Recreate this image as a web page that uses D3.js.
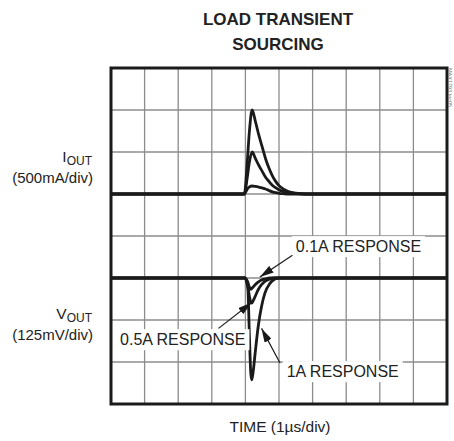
<!DOCTYPE html>
<html>
<head>
<meta charset="utf-8">
<script src="https://cdn.jsdelivr.net/npm/d3@7"></script>
<style>
  body { margin: 0; background: #fff; }
  text { font-family: Arial, "Liberation Sans", Helvetica, sans-serif; fill: #222; }
</style>
</head>
<body>
<svg id="chart"></svg>
<script>
// time axis: 10 divisions of 1us
const timeTicks = d3.range(0, 11);
// current: 500mA/div, baseline 3 div below top; voltage: 125mV/div, baseline 5 div below top
const currentDomain = [-2500, 1500];
const voltageDomain = [-375, 625];

// I_OUT traces (mA) vs time (us)
const iTime = [0, 3.97, 4.05, 4.12, 4.2, 4.3, 4.4, 4.5, 4.6, 4.7, 4.8, 4.9, 5.0, 5.15, 5.3, 5.5, 5.8, 10];
const i1A   = [0, 0, 350, 750, 1000, 860, 700, 560, 420, 310, 220, 150, 100, 55, 25, 10, 0, 0];
const i05A  = [0, 0, 180, 380, 500, 420, 340, 270, 200, 150, 105, 75, 50, 25, 12, 5, 0, 0];
const i01A  = [0, 0, 55, 85, 95, 90, 82, 72, 60, 42, 25, 15, 8, 3, 0, 0, 0, 0];

// V_OUT traces (mV) vs time (us)
const vTime = [0, 3.98, 4.07, 4.12, 4.16, 4.19, 4.23, 4.29, 4.38, 4.48, 4.58, 4.73, 4.88, 5.0, 10];
const v1A   = [0, 0, -26, -175, -283, -303, -280, -224, -145, -85, -45, -16, -3, 0, 0];
const v05A  = [0, 0, -25, -55, -72, -75, -68, -55, -35, -20, -10, -3, 0, 0, 0];
const v01A  = [0, 0, -12, -28, -34, -31, -27, -20, -12, -6, -3, 0, 0, 0, 0];

// annotations, in time (us) / mV
const notes = [
    {label: "0.1A RESPONSE", tx: 5.5, ty: 77, x0: 5.4, y0: 68, x1: 4.43, y1: 3},
    {label: "0.5A RESPONSE", tx: 0.27, ty: -200, x0: 3.2, y0: -150, x1: 4.19, y1: -73},
    {label: "1A RESPONSE", tx: 5.23, ty: -295, x0: 5.03, y0: -253, x1: 4.48, y1: -150}
];

const width = 454, height = 441;
const margin = {l: 111, r: 447, t: 68, b: 404};
const lineColor = "#1a1a1a";
const gridColor = "#8c8c8c";

const svg = d3.select("#chart").attr("width", width).attr("height", height);

const x = d3.scaleLinear().domain([0, 10]).range([margin.l, margin.r]);
const yI = d3.scaleLinear().domain(currentDomain).range([margin.b, margin.t]);
const yV = d3.scaleLinear().domain(voltageDomain).range([margin.b, margin.t]);

// grid
const yDivs = d3.range(0, 9).map(i => voltageDomain[0] + i * 125);
svg.append("g").selectAll("line").data(timeTicks.slice(1, -1))
    .join("line")
    .attr("x1", d => x(d)).attr("x2", d => x(d))
    .attr("y1", margin.t).attr("y2", margin.b)
    .attr("stroke", gridColor).attr("stroke-width", 1.3);
svg.append("g").selectAll("line").data(yDivs.slice(1, -1))
    .join("line")
    .attr("x1", margin.l).attr("x2", margin.r)
    .attr("y1", d => yV(d)).attr("y2", d => yV(d))
    .attr("stroke", gridColor).attr("stroke-width", 1.3);

// traces
const iLine = d3.line().x((d, i) => x(iTime[i])).y(d => yI(d)).curve(d3.curveMonotoneX);
const vLine = d3.line().x((d, i) => x(vTime[i])).y(d => yV(d)).curve(d3.curveMonotoneX);

svg.append("g").selectAll("path").data([i01A, i05A, i1A])
    .join("path")
    .attr("d", iLine)
    .attr("fill", "none").attr("stroke", lineColor)
    .attr("stroke-width", 2.8).attr("stroke-linejoin", "round");
svg.append("g").selectAll("path").data([v01A, v05A, v1A])
    .join("path")
    .attr("d", vLine)
    .attr("fill", "none").attr("stroke", lineColor)
    .attr("stroke-width", 2.8).attr("stroke-linejoin", "round");

// frame
svg.append("rect")
    .attr("x", margin.l).attr("y", margin.t)
    .attr("width", margin.r - margin.l).attr("height", margin.b - margin.t)
    .attr("fill", "none").attr("stroke", lineColor).attr("stroke-width", 3);

// arrow marker
svg.append("defs").append("marker")
    .attr("id", "arrow")
    .attr("viewBox", "0 0 14 8")
    .attr("refX", 14).attr("refY", 4)
    .attr("markerWidth", 14).attr("markerHeight", 8)
    .attr("markerUnits", "userSpaceOnUse")
    .attr("orient", "auto")
    .append("path").attr("d", "M0,0L14,4L0,8Z").attr("fill", lineColor);

// annotations
const ann = svg.append("g").selectAll("g").data(notes).join("g");
ann.append("text")
    .attr("x", d => x(d.tx)).attr("y", d => yV(d.ty))
    .attr("font-size", 16)
    .text(d => d.label);
ann.each(function () {
    const t = d3.select(this).select("text");
    const b = t.node().getBBox();
    d3.select(this).insert("rect", "text")
        .attr("x", b.x - 4).attr("y", b.y - 2)
        .attr("width", b.width + 8).attr("height", b.height + 4)
        .attr("fill", "#fff");
});
ann.append("line")
    .attr("x1", d => x(d.x0)).attr("y1", d => yV(d.y0))
    .attr("x2", d => x(d.x1)).attr("y2", d => yV(d.y1))
    .attr("stroke", lineColor).attr("stroke-width", 1.2)
    .attr("marker-end", "url(#arrow)");

// title
svg.append("text").attr("x", 278).attr("y", 25)
    .attr("text-anchor", "middle").attr("font-size", 17).attr("font-weight", "bold")
    .text("LOAD TRANSIENT");
svg.append("text").attr("x", 278).attr("y", 50)
    .attr("text-anchor", "middle").attr("font-size", 17).attr("font-weight", "bold")
    .text("SOURCING");

// axis label
svg.append("text").attr("x", 280).attr("y", 432)
    .attr("text-anchor", "middle").attr("font-size", 15.5)
    .text("TIME (1µs/div)");

// channel labels
function channel(name, scale, y) {
    const t = svg.append("text").attr("x", 92).attr("y", y)
        .attr("text-anchor", "end").attr("font-size", 15.5);
    t.append("tspan").text(name);
    t.append("tspan").attr("dy", 3).attr("font-size", 12).text("OUT");
    svg.append("text").attr("x", 93).attr("y", y + 21)
        .attr("text-anchor", "end").attr("font-size", 15)
        .text(scale);
}
channel("I", "(500mA/div)", 162);
channel("V", "(125mV/div)", 319);

// figure id
svg.append("text")
    .attr("transform", "translate(448,68) rotate(90)")
    .attr("font-size", 5.5).style("fill", "#777")
    .text("MAX1793 toc05");
</script>
</body>
</html>
